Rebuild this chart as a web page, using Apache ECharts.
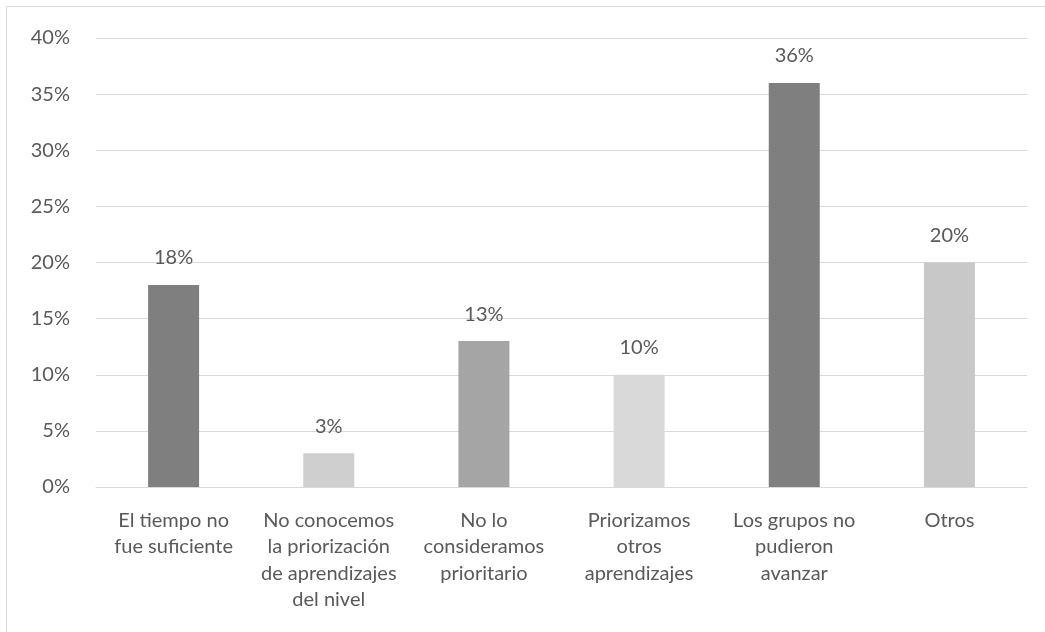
<!DOCTYPE html>
<html><head><meta charset="utf-8">
<script src="https://cdn.jsdelivr.net/npm/echarts@6/dist/echarts.min.js"></script>
<style>html,body{margin:0;padding:0;background:#fff}#c{width:1045px;height:632px}</style>
</head><body><div id="c"></div>
<script>
const categories = [
  "El tiempo no\nfue suficiente",
  "No conocemos\nla priorización\nde aprendizajes\ndel nivel",
  "No lo\nconsideramos\nprioritario",
  "Priorizamos\notros\naprendizajes",
  "Los grupos no\npudieron\navanzar",
  "Otros"
];
const values = [18, 3, 13, 10, 36, 20];
const barColors = ["#7f7f7f", "#cfcfcf", "#a5a5a5", "#d9d9d9", "#7f7f7f", "#c8c8c8"];
const yTicks = [0, 5, 10, 15, 20, 25, 30, 35, 40];

const font = "Lato, 'Open Sans', sans-serif";
const chart = echarts.init(document.getElementById('c'));
chart.setOption({
  animation: false,
  graphic: [{type:'rect', shape:{x:6.5,y:6.5,width:1045,height:640}, style:{fill:'none', stroke:'#d9d9d9', lineWidth:1}}],
  grid: {left: 96, right: 18, top: 38, bottom: 145},
  xAxis: {
    type: 'category', data: categories,
    axisLine: {lineStyle: {color: '#d9d9d9'}},
    axisTick: {show: false},
    axisLabel: {color: '#595959', fontSize: 20, fontFamily: font, lineHeight: 26.5, margin: 20, interval: 0}
  },
  yAxis: {
    type: 'value', min: yTicks[0], max: yTicks[yTicks.length-1], interval: 5,
    axisLine: {show: false}, axisTick: {show: false},
    splitLine: {lineStyle: {color: '#d9d9d9'}},
    axisLabel: {color: '#595959', fontSize: 20, fontFamily: font, margin: 26, formatter: v => v + '%'}
  },
  series: [{
    type: 'bar', barWidth: 51,
    data: values.map((v, i) => ({value: v, itemStyle: {color: barColors[i]}})),
    label: {show: true, position: 'top', distance: 17, color: '#595959', fontSize: 20, fontFamily: font, formatter: p => p.value + '%'}
  }]
});
</script></body></html>
